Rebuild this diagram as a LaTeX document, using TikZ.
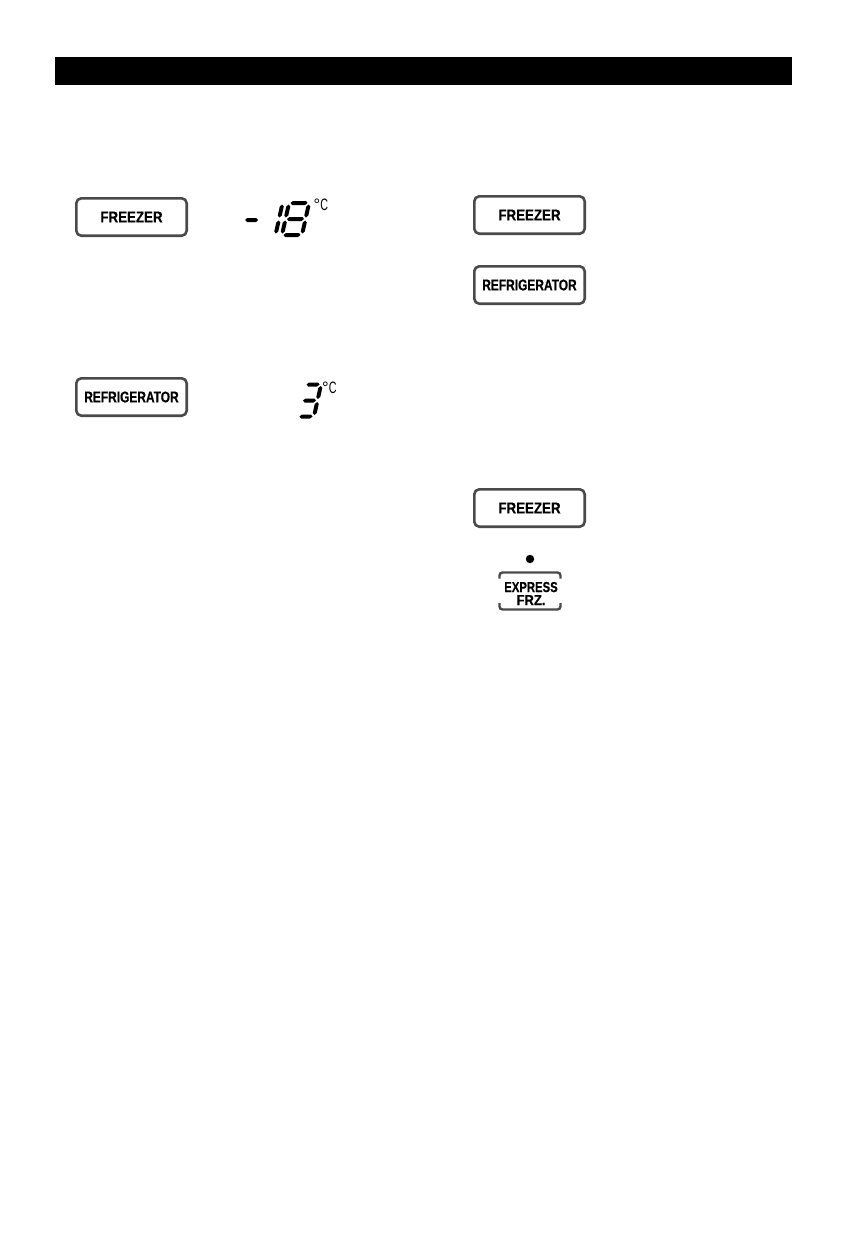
\documentclass[tikz,border=0pt]{standalone}
\usepackage{fontspec}
\usepackage{graphicx}
\newfontfamily\btnfont[FakeBold=0.6]{Liberation Sans Bold}
\newfontfamily\degfont{Liberation Sans}
\definecolor{btngray}{HTML}{4A4A4A}
% seven-segment pieces (local coords, origin bottom-left, y downwards)
\newcommand{\hseg}[3]{\fill (#1,#3) -- ({#1+2},{#3-2}) -- ({#2-2},{#3-2}) -- (#2,#3) -- ({#2-2},{#3+2}) -- ({#1+2},{#3+2}) -- cycle;}
\newcommand{\vseg}[3]{\fill (#1,#2) -- ({#1+2},{#2+2}) -- ({#1+2},{#3-2}) -- (#1,#3) -- ({#1-2},{#3-2}) -- ({#1-2},{#2+2}) -- cycle;}
\newcommand{\dW}{20}
\newcommand{\sgA}{\hseg{1.5}{\dW-1.5}{-32}}
\newcommand{\sgB}{\vseg{\dW}{-30.5}{-17.5}}
\newcommand{\sgC}{\vseg{\dW}{-14.5}{-1.5}}
\newcommand{\sgD}{\hseg{1.5}{\dW-1.5}{0}}
\newcommand{\sgE}{\vseg{0}{-14.5}{-1.5}}
\newcommand{\sgF}{\vseg{0}{-30.5}{-17.5}}
\newcommand{\sgG}{\hseg{1.5}{\dW-1.5}{-16}}
\newcommand{\btxt}[2]{\scalebox{#1}[1]{#2}}
\tikzset{
  btn/.style={draw=btngray, line width=2.6pt, rounded corners=5pt, fill=white,
    minimum width=110.4pt, minimum height=37.4pt, inner sep=0pt,
    font=\btnfont\fontsize{15.5}{15.5}\selectfont},
  degc/.style={inner sep=0pt, font=\degfont\fontsize{16.5}{16.5}\selectfont},
  bracket/.style={draw=btngray, line width=2.4pt, rounded corners=3pt},
  lcd/.style={xslant=0.22}
}
\begin{document}
\begin{tikzpicture}[x=1pt,y=-1pt]
\useasboundingbox (0,0) rectangle (851,1247);
\fill[white] (0,0) rectangle (851,1247);
% header bar
\fill[black] (55,57) rectangle (792,85);
% left column
\node[btn] (lfreezer) at (131.5,217) {\btxt{0.86}{FREEZER}};
\node[btn] (lrefrig) at (131.5,397) {\btxt{0.77}{REFRIGERATOR}};
% display -18
\hseg{245}{258}{220}
\begin{scope}[shift={(275.5,235)},lcd] \sgE\sgF \end{scope}
\begin{scope}[shift={(282,235)},lcd] \sgA\sgB\sgC\sgD\sgE\sgF\sgG \end{scope}
\node[degc, anchor=north west] (degA) at (313.5,198.5) {°\btxt{0.65}{C}};
% display 3
\renewcommand{\dW}{16}
\begin{scope}[shift={(298,416.5)},lcd] \sgA\sgB\sgC\sgD\sgG \end{scope}
\node[degc, anchor=north west] (degB) at (322,381.5) {°\btxt{0.65}{C}};
% right column
\node[btn] (rfreezer) at (529.5,215) {\btxt{0.86}{FREEZER}};
\node[btn] (rrefrig) at (529.5,285) {\btxt{0.77}{REFRIGERATOR}};
\node[btn] (rfreezerb) at (529.5,508) {\btxt{0.86}{FREEZER}};
% express freeze button
\fill[black] (530,559) circle[radius=4.2pt];
\node[align=center, inner sep=0pt, font=\btnfont\fontsize{14.5}{13}\selectfont] (express) at (531,593.5)
  {\btxt{0.78}{EXPRESS}\\\btxt{0.9}{FRZ.}};
\draw[bracket] (499.5,578.5) -- (499.5,572.5) -- (560.5,572.5) -- (560.5,578.5);
\draw[bracket] (499.5,603) -- (499.5,609.5) -- (560.5,609.5) -- (560.5,603);
\end{tikzpicture}
\end{document}
